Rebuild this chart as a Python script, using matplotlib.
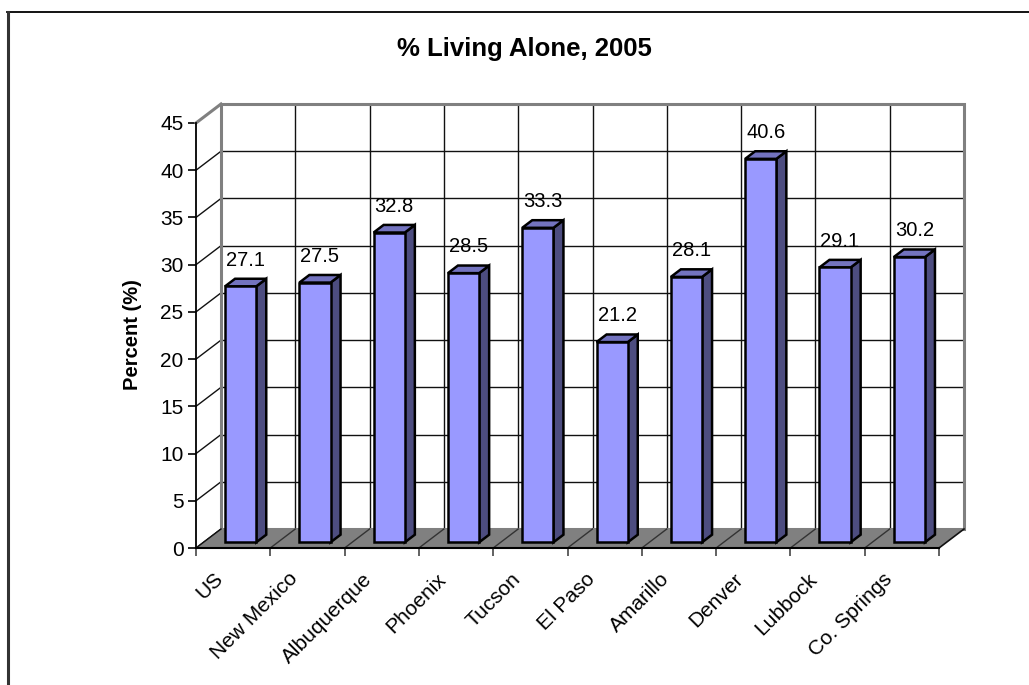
import numpy as np
import matplotlib
matplotlib.use("Agg")
import matplotlib.pyplot as plt
from matplotlib.patches import Polygon
from matplotlib.lines import Line2D
from matplotlib.transforms import ScaledTranslation

plt.rcParams["font.family"] = ["Liberation Sans", "DejaVu Sans"]

# Data
places = ["US", "New Mexico", "Albuquerque", "Phoenix", "Tucson",
          "El Paso", "Amarillo", "Denver", "Lubbock", "Co. Springs"]
pct_alone = [27.1, 27.5, 32.8, 28.5, 33.3, 21.2, 28.1, 40.6, 29.1, 30.2]
y_ticks = list(range(0, 50, 5))
title = "% Living Alone, 2005"
y_title = "Percent (%)"

# Colours of the 3-D column
FRONT = "#9999FF"
SIDE = "#4D4D80"
TOP = "#7373BF"
FLOOR = "#808080"
WALL_EDGE = "#808080"

W, H = 1029, 685
fig = plt.figure(figsize=(W / 100, H / 100), dpi=100)
fig.patch.set_facecolor("white")

# outer chart-area frame: only its top and left sides fall inside the image
fig.add_artist(Line2D([7 / W, 1.05], [1 - 12 / H] * 2, transform=fig.transFigure,
                      color="black", lw=1.3))
fig.add_artist(Line2D([7.5 / W] * 2, [-0.05, 1 - 12 / H], transform=fig.transFigure,
                      color="#333333", lw=2.2))

ax = fig.add_axes([196 / W, (H - 548) / H, (939 - 196) / W, (548 - 123) / H])
n = len(places)
vmax = y_ticks[-1]
ax.set_xlim(0, n)
ax.set_ylim(0, vmax)
ax.patch.set_visible(False)

# oblique depth: fraction d of the depth shifts right and up
DX = 25 / 74.3          # in category units
DV = 19 / (425 / vmax)  # in value units


def proj(x, v, d):
    return (x + d * DX, v + d * DV)


def poly(pts, **kw):
    p = Polygon(pts, closed=True, clip_on=False, **kw)
    ax.add_patch(p)
    return p


def seg(p0, p1, **kw):
    ax.add_line(Line2D([p0[0], p1[0]], [p0[1], p1[1]], clip_on=False, **kw))


# back wall
poly([proj(0, 0, 1), proj(n, 0, 1), proj(n, vmax, 1), proj(0, vmax, 1)],
     facecolor="white", edgecolor="none", zorder=1)
for v in y_ticks[1:-1]:
    seg(proj(0, v, 1), proj(n, v, 1), color="#111111", lw=1.0, zorder=2)
for x in range(1, n):
    seg(proj(x, 0, 1), proj(x, vmax, 1), color="#111111", lw=1.0, zorder=2)
poly([proj(0, 0, 1), proj(n, 0, 1), proj(n, vmax, 1), proj(0, vmax, 1)],
     facecolor="none", edgecolor=WALL_EDGE, lw=2.2, zorder=3)

# side wall
for v in y_ticks[:-1]:
    seg(proj(0, v, 0), proj(0, v, 1), color="#111111", lw=1.0, zorder=2)
seg(proj(0, vmax, 0), proj(0, vmax, 1), color=WALL_EDGE, lw=2.2, zorder=3)

# floor
poly([proj(0, 0, 0), proj(n, 0, 0), proj(n, 0, 1), proj(0, 0, 1)],
     facecolor=FLOOR, edgecolor="none", zorder=4)
for x in range(1, n):
    seg(proj(x, 0, 0), proj(x, 0, 1), color="#333333", lw=1.0, zorder=5)
seg(proj(0, 0, 0), proj(0, 0, 1), color="#111111", lw=1.0, zorder=5)
seg(proj(n, 0, 0), proj(n, 0, 1), color="#111111", lw=1.2, zorder=5)

# columns
x_lo, x_hi = 0.29, 0.71
d_lo, d_hi = 0.3, 0.7
edge_kw = dict(edgecolor="black", lw=1.8, joinstyle="miter", zorder=6)
for i, v in enumerate(pct_alone):
    x0, x1 = i + x_lo, i + x_hi
    poly([proj(x1, 0, d_lo), proj(x1, 0, d_hi), proj(x1, v, d_hi), proj(x1, v, d_lo)],
         facecolor=SIDE, **edge_kw)
    poly([proj(x0, v, d_lo), proj(x1, v, d_lo), proj(x1, v, d_hi), proj(x0, v, d_hi)],
         facecolor=TOP, **edge_kw)
    poly([proj(x0, 0, d_lo), proj(x1, 0, d_lo), proj(x1, v, d_lo), proj(x0, v, d_lo)],
         facecolor=FRONT, **edge_kw)
    ax.annotate(f"{v:.1f}", xy=proj(i + 0.5, v, 0.5), xytext=(0, 17),
                textcoords="offset pixels", ha="center", va="baseline",
                fontsize=14.5, color="black", annotation_clip=False, zorder=7)

# axes lines and ticks
for s in ("top", "right"):
    ax.spines[s].set_visible(False)
ax.spines["left"].set_color("black")
ax.spines["left"].set_linewidth(1.3)
ax.spines["bottom"].set_color("black")
ax.spines["bottom"].set_linewidth(1.5)
ax.spines["left"].set_zorder(8)
ax.spines["bottom"].set_zorder(8)

ax.set_yticks(y_ticks)
ax.set_yticklabels([str(t) for t in y_ticks])
ax.tick_params(axis="y", direction="out", length=6, width=1.2, color="black",
               labelsize=15, pad=3)

ax.set_xticks(np.arange(n) + 0.5)
ax.set_xticklabels(places, rotation=45, ha="right", va="center",
                   rotation_mode="anchor", fontsize=15)
ax.set_xticks(np.arange(n + 1), minor=True)
ax.tick_params(axis="x", which="major", length=0, pad=0)
ax.tick_params(axis="x", which="minor", direction="out", length=6, width=1.3,
               color="#555555")
shift = ScaledTranslation(-13 / 100, -28 / 100, fig.dpi_scale_trans)
for lab in ax.get_xticklabels():
    lab.set_transform(lab.get_transform() + shift)

fig.text(524.5 / W, 1 - 49 / H, title, ha="center", va="center",
         fontsize=18.5, fontweight="bold")
fig.text(133 / W, 1 - 335 / H, y_title, ha="center", va="center",
         rotation=90, fontsize=14.5, fontweight="bold")

fig.savefig("out.png", dpi=100, facecolor="white")
